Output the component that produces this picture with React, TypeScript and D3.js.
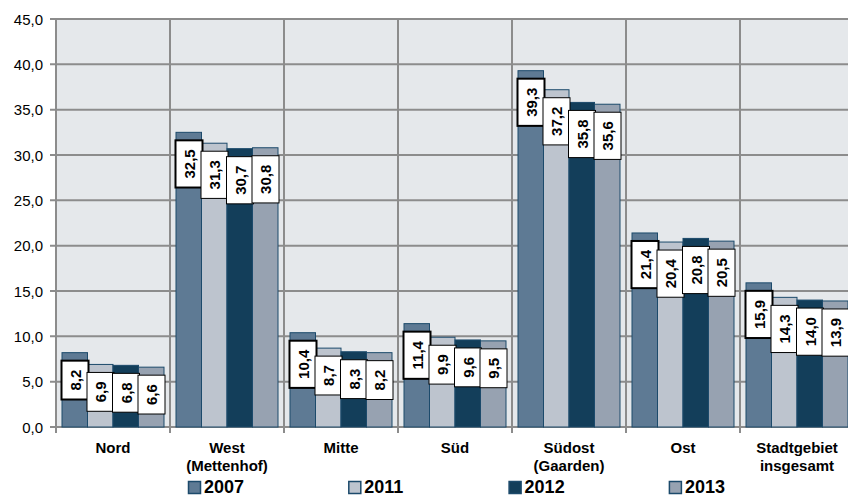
import React from "react";
import * as d3 from "d3";

const categories: string[][] = [
  ["Nord"],
  ["West", "(Mettenhof)"],
  ["Mitte"],
  ["Süd"],
  ["Südost", "(Gaarden)"],
  ["Ost"],
  ["Stadtgebiet", "insgesamt"],
];
const seriesNames = ["2007", "2011", "2012", "2013"];
const v2007 = [8.2, 32.5, 10.4, 11.4, 39.3, 21.4, 15.9];
const v2011 = [6.9, 31.3, 8.7, 9.9, 37.2, 20.4, 14.3];
const v2012 = [6.8, 30.7, 8.3, 9.6, 35.8, 20.8, 14.0];
const v2013 = [6.6, 30.8, 8.2, 9.5, 35.6, 20.5, 13.9];
const yTicks = [0, 5, 10, 15, 20, 25, 30, 35, 40, 45];

const seriesValues = [v2007, v2011, v2012, v2013];
const colors = ["#5E7A94", "#BDC4CE", "#133E5A", "#97A2B1"];

const FONT = "'Liberation Sans', Arial, sans-serif";
const fmt = (v: number) => v.toFixed(1).replace(".", ",");

export default function App() {
  const W = 848, H = 497;
  const left = 56, right = 854, top = 19, bottom = 427;
  const y = d3.scaleLinear().domain([0, 45]).range([bottom, top]);
  const x0 = d3.scaleBand<number>().domain(d3.range(categories.length)).range([left, right]).paddingInner(0).paddingOuter(0);
  const inner = 6;
  const x1 = d3.scaleBand<number>().domain(d3.range(4)).range([inner, x0.bandwidth() - inner]).padding(0);
  const fs = 15;
  const digitW = 0.556 * fs, commaW = 0.278 * fs;
  const textLen = (s: string) => s.split("").reduce((a, c) => a + (c === "," ? commaW : digitW), 0);

  return (
    <svg width={W} height={H} style={{ position: "absolute", left: 0, top: 0 }} fontFamily={FONT}>
      <rect x={left} y={top} width={right - left} height={bottom - top} fill="#E5E8EB" />
      {yTicks.map((t) => (
        <g key={t}>
          <line x1={left - 6} x2={right} y1={y(t)} y2={y(t)} stroke="#8C8C8C" strokeWidth={2} />
          <text x={43} y={y(t) + 5.5} textAnchor="end" fontSize={15} fill="#000">{fmt(t)}</text>
        </g>
      ))}
      {d3.range(categories.length + 1).map((i) => {
        const xx = left + i * x0.bandwidth();
        return <line key={i} x1={xx} x2={xx} y1={top} y2={bottom + 6} stroke="#8C8C8C" strokeWidth={2} />;
      })}
      {categories.map((_, ci) =>
        seriesValues.map((vals, si) => {
          const bx = (x0(ci) as number) + (x1(si) as number);
          const bw = x1.bandwidth();
          return (
            <rect key={`b${ci}-${si}`} x={bx} y={y(vals[ci])} width={bw} height={bottom - y(vals[ci])}
              fill={colors[si]} stroke="#1C4A6B" strokeWidth={1} />
          );
        })
      )}
      {categories.map((_, ci) =>
        seriesValues.map((vals, si) => {
          const bx = (x0(ci) as number) + (x1(si) as number);
          const label = fmt(vals[ci]);
          const h = textLen(label) + 18;
          const bw = 27;
          const by = y(vals[ci]) + 8;
          const cx = bx + bw / 2 - 0.5;
          const cy = by + h / 2;
          return (
            <g key={`l${ci}-${si}`}>
              <rect x={bx - 0.5} y={by} width={bw} height={h} fill="#fff" stroke="#000" strokeWidth={si === 0 ? 2 : 1} />
              <text transform={`translate(${cx + 5.5},${cy}) rotate(-90)`} textAnchor="middle" fontSize={fs} fontWeight="bold" fill="#000">{label}</text>
            </g>
          );
        })
      )}
      {categories.map((lines, ci) => {
        const cx = (x0(ci) as number) + x0.bandwidth() / 2;
        return (
          <text key={`c${ci}`} textAnchor="middle" fontSize={15} fontWeight="bold" fill="#000">
            {lines.map((ln, li) => (
              <tspan key={li} x={cx} y={453 + li * 17.5}>{ln}</tspan>
            ))}
          </text>
        );
      })}
      {seriesNames.map((s, si) => {
        const lx = 188 + si * 160.3;
        return (
          <g key={s}>
            <rect x={lx + 0.5} y={481.5} width={12} height={12} fill={colors[si]} stroke="#1C4A6B" strokeWidth={1.5} />
            <text x={lx + 16} y={493} fontSize={18} fontWeight="bold" fill="#000">{s}</text>
          </g>
        );
      })}
    </svg>
  );
}
